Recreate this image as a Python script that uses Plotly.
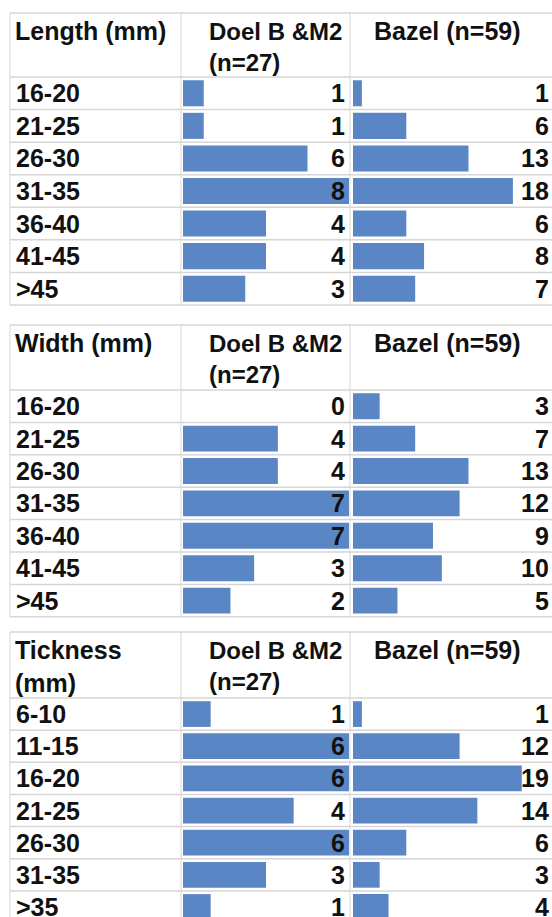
import plotly.graph_objects as go

W, H = 552, 917

# ---- data ----
length_bins = ["16-20", "21-25", "26-30", "31-35", "36-40", "41-45", ">45"]
length_doel = [1, 1, 6, 8, 4, 4, 3]
length_bazel = [1, 6, 13, 18, 6, 8, 7]

width_bins = ["16-20", "21-25", "26-30", "31-35", "36-40", "41-45", ">45"]
width_doel = [0, 4, 4, 7, 7, 3, 2]
width_bazel = [3, 7, 13, 12, 9, 10, 5]

thick_bins = ["6-10", "11-15", "16-20", "21-25", "26-30", "31-35", ">35"]
thick_doel = [1, 6, 6, 4, 6, 3, 1]
thick_bazel = [1, 12, 19, 14, 6, 3, 4]

row_headers = ["Length (mm)", "Width (mm)", "Tickness<br>(mm)"]
col_headers = ["Doel B &M2<br>(n=27)", "Bazel (n=59)"]

tables = [
    (row_headers[0], length_bins, length_doel, length_bazel),
    (row_headers[1], width_bins, width_doel, width_bazel),
    (row_headers[2], thick_bins, thick_doel, thick_bazel),
]

# ---- layout geometry (pixels) ----
table_tops = [13, 325, 632]
header_bottoms = [77, 390, 698]
row_h = [32.57, 32.4, 32.15]
X_LEFT, X_DIV1, X_DIV2, X_RIGHT = 10, 181, 350, 552
DOEL_X0, DOEL_X1 = 183, 349
BAZ_X0, BAZ_X1 = 353, 552
BAZEL_RANGE_MAX = 22.4

BAR_COLOR = "#5a86c6"
GRID = "#d6d6d6"
FONT = dict(family="Liberation Sans, Arial, sans-serif", size=25, color="#111111", weight="bold")
HFONT = dict(FONT, size=24)


def px(x):
    return x / W


def py(y):
    return 1 - y / H


fig = go.Figure()
annotations = []
shapes = []

ax = 0
for t, (rh, bins, doel, bazel) in enumerate(tables):
    top = table_tops[t]
    hb = header_bottoms[t]
    rhh = row_h[t]
    nrows = len(bins)
    bottom = hb + nrows * rhh
    vis_bottom = min(bottom, H)
    visible_rows = (vis_bottom - hb) / rhh
    yrange = [-0.5 + visible_rows, -0.5]

    for c, (vals, x0, x1) in enumerate([(doel, DOEL_X0, DOEL_X1), (bazel, BAZ_X0, BAZ_X1)]):
        ax += 1
        xa = "x" if ax == 1 else f"x{ax}"
        ya = "y" if ax == 1 else f"y{ax}"
        fig.add_trace(go.Bar(
            x=vals, y=bins, orientation="h", xaxis=xa, yaxis=ya,
            marker=dict(color=BAR_COLOR, line=dict(width=0)),
            hoverinfo="x+y", showlegend=False,
        ))
        xmax = max(vals) if c == 0 else BAZEL_RANGE_MAX
        fig.layout[f"xaxis{'' if ax == 1 else ax}"] = dict(
            domain=[px(x0), px(x1)], range=[0, xmax], visible=False,
            anchor=ya, fixedrange=True)
        fig.layout[f"yaxis{'' if ax == 1 else ax}"] = dict(
            domain=[py(vis_bottom), py(hb)], range=yrange, type="category",
            categoryorder="array", categoryarray=bins, visible=False,
            anchor=xa, fixedrange=True)
        # value labels, right aligned in cell
        xr = (X_DIV2 - 3) if c == 0 else (X_RIGHT - 1)
        for b, v in zip(bins, vals):
            annotations.append(dict(
                x=px(xr), xref="paper", y=b, yref=ya, text=str(v),
                showarrow=False, xanchor="right", yanchor="middle", font=FONT))
        if c == 0:
            for b in bins:
                annotations.append(dict(
                    x=px(14), xref="paper", y=b, yref=ya, text=b,
                    showarrow=False, xanchor="left", yanchor="middle", font=FONT))

    # headers
    annotations.append(dict(x=px(13), y=py(top + 2), xref="paper", yref="paper",
                            text=rh, showarrow=False, xanchor="left", yanchor="top",
                            align="left", font=FONT))
    annotations.append(dict(x=px(207), y=py(top + 3), xref="paper", yref="paper",
                            text=col_headers[0], showarrow=False, xanchor="left",
                            yanchor="top", align="left", font=HFONT))
    annotations.append(dict(x=px(372), y=py(top + 2), xref="paper", yref="paper",
                            text=col_headers[1], showarrow=False, xanchor="left",
                            yanchor="top", align="left", font=FONT))

    # grid lines
    shapes.append(dict(type="line", xref="paper", yref="paper", x0=px(X_LEFT), x1=px(X_RIGHT),
                       y0=py(top), y1=py(top), line=dict(color=GRID, width=1.5)))
    for k in range(nrows + 1):
        yy = hb + k * rhh
        if yy > H:
            break
        shapes.append(dict(type="line", xref="paper", yref="paper", x0=px(X_LEFT), x1=px(X_RIGHT),
                           y0=py(yy), y1=py(yy), line=dict(color=GRID, width=1.5)))
    for xx in (X_LEFT, X_DIV1, X_DIV2):
        shapes.append(dict(type="line", xref="paper", yref="paper", x0=px(xx), x1=px(xx),
                           y0=py(top), y1=py(vis_bottom), line=dict(color="#e4e4e4", width=1.5),
                           layer="below"))

fig.update_layout(
    width=W, height=H, margin=dict(l=0, r=0, t=0, b=0),
    paper_bgcolor="white", plot_bgcolor="rgba(0,0,0,0)",
    bargap=0.2, annotations=annotations, shapes=shapes,
    font=FONT,
)

fig.write_html(
    "out.html",
    config={"displayModeBar": False},
    post_script="document.body.style.margin='0';document.body.style.overflow='hidden';",
)
